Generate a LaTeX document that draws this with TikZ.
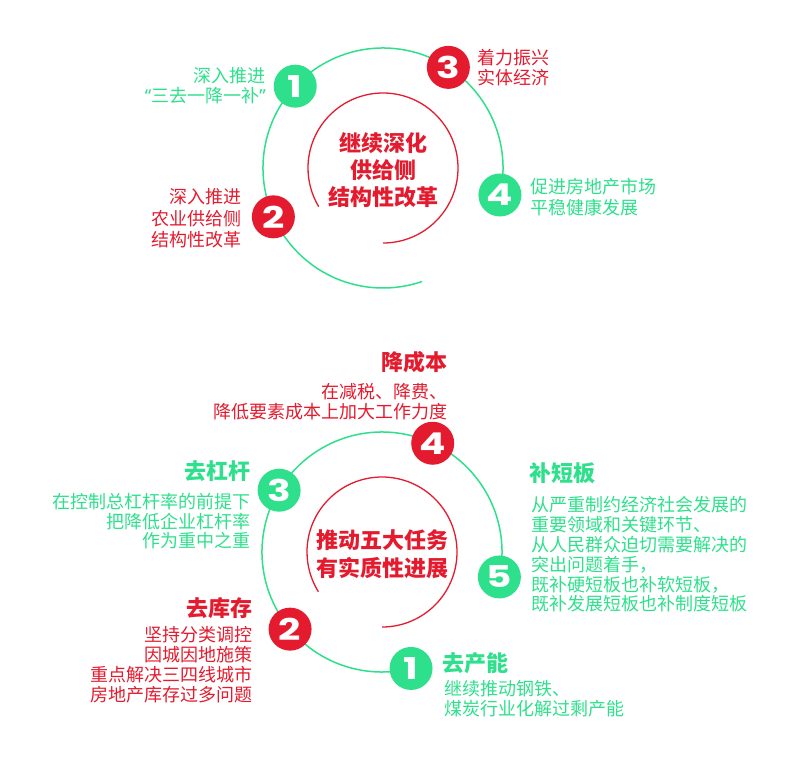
\documentclass[tikz,border=0pt]{standalone}
\usepackage{fontspec}
\usepackage{graphicx}
\setmainfont{Noto Sans CJK SC}
\newfontfamily\numfont{Poppins}
\newfontfamily\latinfont{Noto Sans}
\definecolor{gr}{HTML}{2EE08C}
\definecolor{rd}{HTML}{E41B2E}
\newcommand{\dg}[1]{\scalebox{1.3}[1]{#1}}
\begin{document}
\begin{tikzpicture}[x=1pt,y=-1pt,
  num/.style={circle, minimum size=43pt, inner sep=0pt, text=white,
    font=\numfont\bfseries\fontsize{30}{30}\selectfont},
  gnum/.style={num, fill=gr},
  rnum/.style={num, fill=rd},
  body/.style={inner sep=0pt, font=\fontsize{18}{#1}\selectfont},
  body/.default=20,
  ttl/.style={inner sep=0pt, font=\bfseries\fontsize{22}{#1}\selectfont},
  ttl/.default=27,
  ring/.style={draw=gr, line width=1.5pt},
  inring/.style={draw=rd, line width=1.3pt}
]
\useasboundingbox (0,0) rectangle (800,772);

% ---------- top diagram ----------
\coordinate (c1) at (383,168);
\draw[ring] (c1) ++(13:120) arc[start angle=13, end angle=-289, radius=120];
\draw[inring] (c1) ++(90:75) arc[start angle=90, end angle=-211, radius=75];

\path (c1) ++(-137:120) node[gnum] (a1) {\dg{1}};
\path (c1) ++(-57:120)  node[rnum] (a3) {\dg{3}};
\path (c1) ++(13:120)   node[gnum] (a4) {\dg{4}};
\path (c1) ++(156:120)  node[rnum] (a2) {\dg{2}};

\node[ttl, text=rd, align=center] (acenter) at (383,170) {继续深化\\供给侧\\结构性改革};

\node[body, text=gr, align=right, anchor=east] (at1) at (266,85.5)
  {深入推进\\{\latinfont “}三去一降一补{\latinfont ”}};
\node[body, text=rd, align=left, anchor=west] (at3) at (477,68) {着力振兴\\实体经济};
\node[body=21, text=gr, align=left, anchor=west] (at4) at (530,197) {促进房地产市场\\平稳健康发展};
\node[body=21.5, text=rd, align=right, anchor=east] (at2) at (242,218.5) {深入推进\\农业供给侧\\结构性改革};

% ---------- bottom diagram ----------
\coordinate (c2) at (382,552);
\draw[ring] (c2) ++(12:120) arc[start angle=12, end angle=-284, radius=120];
\draw[inring] (c2) ++(90:75) arc[start angle=90, end angle=-212, radius=75];

\path (c2) ++(-65:120)  node[rnum] (b4) {\dg{4}};
\path (c2) ++(-149:120) node[gnum] (b3) {\dg{3}};
\path (c2) ++(140:120)  node[rnum] (b2) {\dg{2}};
\path (c2) ++(76:120)   node[gnum] (b1) {\dg{1}};
\path (c2) ++(12:120)   node[gnum] (b5) {\dg{5}};

\node[ttl=28, text=rd, align=center] (bcenter) at (382,554) {推动五大任务\\有实质性进展};

\node[ttl, text=rd, anchor=east] (b4t) at (448,362) {降成本};
\node[body, text=rd, align=right, anchor=east] (b4b) at (448,402)
  {在减税、降费、\\降低要素成本上加大工作力度};

\node[ttl, text=gr, anchor=east] (b3t) at (251,471) {去杠杆};
\node[body=19.5, text=gr, align=right, anchor=east] (b3b) at (251,521.5)
  {在控制总杠杆率的前提下\\把降低企业杠杆率\\作为重中之重};

\node[ttl, text=rd, anchor=east] (b2t) at (253,608) {去库存};
\node[body, text=rd, align=right, anchor=east] (b2b) at (253,665)
  {坚持分类调控\\因城因地施策\\重点解决三四线城市\\房地产库存过多问题};

\node[ttl, text=gr, anchor=west] (b5t) at (529,473) {补短板};
\node[body=19.8, text=gr, align=left, anchor=west] (b5b) at (531,554.5)
  {从严重制约经济社会发展的\\重要领域和关键环节、\\从人民群众迫切需要解决的\\突出问题着手，\\既补硬短板也补软短板，\\既补发展短板也补制度短板};

\node[ttl, text=gr, anchor=west] (b1t) at (442,663) {去产能};
\node[body, text=gr, align=left, anchor=west] (b1b) at (444,699)
  {继续推动钢铁、\\煤炭行业化解过剩产能};
\end{tikzpicture}
\end{document}
